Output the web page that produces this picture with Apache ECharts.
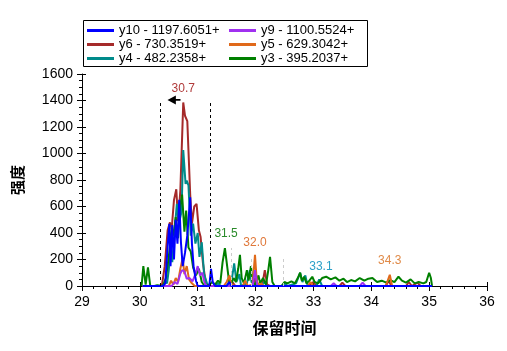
<!DOCTYPE html>
<html><head><meta charset="utf-8">
<script src="https://cdn.jsdelivr.net/npm/echarts@6/dist/echarts.min.js"></script>
<style>html,body{margin:0;padding:0;background:#fff}#c{width:507px;height:351px}</style>
</head><body><div id="c"></div>
<script>
// ---- data ----
const seriesNames = ['y10 - 1197.6051+','y9 - 1100.5524+','y6 - 730.3519+','y5 - 629.3042+','y4 - 482.2358+','y3 - 395.2037+'];
const y10 = [[30.05,0],[30.40,0],[30.44,20],[30.48,300],[30.51,470],[30.53,150],[30.56,460],[30.59,200],[30.62,500],[30.65,320],[30.68,650],[30.71,330],[30.74,150],[30.78,250],[30.82,380],[30.87,670],[30.90,320],[30.93,140],[30.97,40],[31.0,0],[31.2,0],[31.23,130],[31.26,30],[31.3,0],[31.5,0],[31.55,30],[31.58,0],[35.05,0]];
const y9 = [[30.05,0],[30.55,0],[30.60,30],[30.65,15],[30.70,95],[30.73,120],[30.77,110],[30.81,55],[30.86,60],[30.91,35],[30.96,90],[31.00,150],[31.04,80],[31.08,100],[31.12,20],[31.16,0],[31.95,0],[31.99,120],[32.03,0],[33.3,0],[33.35,20],[33.4,0],[33.8,0],[33.85,25],[33.9,0],[35.05,0]];
const y6 = [[30.05,0],[30.38,0],[30.43,150],[30.48,420],[30.52,480],[30.55,430],[30.59,650],[30.63,730],[30.66,490],[30.70,720],[30.75,1385],[30.78,1285],[30.82,1245],[30.87,690],[30.90,470],[30.94,600],[30.98,620],[31.02,420],[31.05,370],[31.09,175],[31.14,20],[31.17,0],[31.55,0],[31.6,30],[31.65,0],[31.95,0],[31.99,60],[32.03,0],[32.12,20],[32.16,120],[32.2,10],[32.25,0],[32.9,0],[33.0,30],[33.05,0],[33.45,0],[33.5,25],[33.55,0],[34.25,0],[34.3,40],[34.35,0],[34.6,0],[34.65,30],[34.7,0],[34.8,25],[34.85,0],[35.05,0]];
const y5 = [[30.05,0],[30.50,0],[30.54,40],[30.58,10],[30.62,60],[30.66,30],[30.70,130],[30.74,210],[30.77,90],[30.81,150],[30.85,50],[30.90,20],[30.95,0],[31.45,0],[31.5,30],[31.55,80],[31.58,10],[31.65,0],[31.78,0],[31.82,40],[31.86,0],[31.95,10],[31.99,235],[32.02,40],[32.06,0],[32.1,20],[32.14,0],[32.9,0],[32.95,30],[33.0,0],[34.25,0],[34.32,85],[34.36,0],[35.05,0]];
const y4 = [[30.05,0],[30.40,0],[30.44,40],[30.47,20],[30.50,120],[30.53,300],[30.56,180],[30.60,420],[30.64,620],[30.68,480],[30.72,560],[30.75,1026],[30.79,770],[30.81,795],[30.84,760],[30.88,380],[30.92,470],[30.96,320],[31.00,400],[31.03,220],[31.07,330],[31.11,90],[31.16,20],[31.2,0],[31.3,0],[31.35,20],[31.4,0],[31.5,0],[31.55,40],[31.58,20],[31.63,170],[31.67,30],[31.72,90],[31.75,0],[31.85,20],[31.90,120],[31.93,30],[31.97,0],[32.1,0],[32.15,30],[32.2,0],[32.45,0],[32.5,20],[32.55,0],[32.7,20],[32.77,100],[32.81,30],[32.86,80],[32.9,0],[33.05,0],[33.1,50],[33.15,0],[35.05,0]];
const y3 = [[30.03,0],[30.06,150],[30.10,10],[30.14,140],[30.18,0],[30.25,0],[30.30,5],[30.40,0],[30.45,60],[30.50,220],[30.55,440],[30.58,380],[30.62,520],[30.66,360],[30.70,610],[30.73,690],[30.77,410],[30.80,570],[30.84,290],[30.88,260],[30.92,140],[30.97,80],[31.02,130],[31.07,30],[31.12,0],[31.2,10],[31.25,30],[31.3,10],[31.35,40],[31.39,20],[31.43,180],[31.47,285],[31.50,280],[31.54,40],[31.58,20],[31.62,60],[31.66,30],[31.70,130],[31.73,235],[31.76,60],[31.80,20],[31.85,120],[31.88,40],[31.92,150],[31.95,30],[32.0,10],[32.05,80],[32.08,20],[32.13,60],[32.18,10],[32.22,120],[32.25,220],[32.29,30],[32.33,0],[32.45,0],[32.5,30],[32.55,20],[32.62,35],[32.68,20],[32.73,60],[32.77,100],[32.8,40],[32.84,70],[32.88,20],[32.93,40],[32.98,70],[33.02,30],[33.08,20],[33.15,60],[33.22,70],[33.3,50],[33.38,65],[33.45,40],[33.52,55],[33.58,30],[33.65,45],[33.72,35],[33.8,60],[33.88,40],[33.95,55],[34.02,60],[34.1,30],[34.18,40],[34.26,25],[34.33,45],[34.4,30],[34.47,70],[34.53,40],[34.6,25],[34.68,50],[34.75,20],[34.82,30],[34.9,20],[34.95,30],[35.0,100],[35.03,60],[35.05,0]];
const peakLabels = [['30.7',30.75,1487,'#b03a3a'],['31.5',31.49,392,'#2a8a2a'],['32.0',31.99,325,'#e0783a'],['33.1',33.13,143,'#2aa0c8'],['34.3',34.32,189,'#e08a48']];
const windowLines = [30.35, 31.22];
const windowTop = 1385;
const apexLines = [[31.58,287],[31.93,210],[32.47,210]];
const arrowAt = [30.59, 1404];
// ---- chart ----
const colors = {'y10 - 1197.6051+':'#0000ff','y9 - 1100.5524+':'#a030f0','y6 - 730.3519+':'#a52a2a','y5 - 629.3042+':'#e0691a','y4 - 482.2358+':'#008b8b','y3 - 395.2037+':'#008000'};
const dataMap = {'y10 - 1197.6051+':y10,'y9 - 1100.5524+':y9,'y6 - 730.3519+':y6,'y5 - 629.3042+':y5,'y4 - 482.2358+':y4,'y3 - 395.2037+':y3};
const drawOrder = ['y6 - 730.3519+','y4 - 482.2358+','y3 - 395.2037+','y5 - 629.3042+','y9 - 1100.5524+','y10 - 1197.6051+'];
const FONT = 'Liberation Sans, Arial, sans-serif';
const series = drawOrder.map(n => ({
  name: n, type: 'line', data: dataMap[n], showSymbol: false, symbol: 'none',
  lineStyle: {color: colors[n], width: 2}, itemStyle: {color: colors[n]}, animation: false, z: 3
}));
series.push({
  name: '_ann', type: 'line', data: [], silent: true, animation: false,
  markLine: {
    silent: true, symbol: ['none','none'], animation: false,
    data: windowLines.map(x => [{coord:[x,0], lineStyle:{color:'#000',type:[3,3],width:1}}, {coord:[x,windowTop]}])
      .concat(apexLines.map(a => [{coord:[a[0],0], lineStyle:{color:'#cccccc',type:[3,3],width:1}}, {coord:[a[0],a[1]]}])),
    label: {show: false}
  },
  markPoint: {
    animation: false,
    data: peakLabels.map(p => ({coord:[p[1],p[2]], symbolSize:1, itemStyle:{color:'rgba(0,0,0,0)'},
        label:{show:true, position:'inside', formatter:p[0], color:p[3], fontSize:12, fontFamily:FONT}}))
      .concat([{coord: arrowAt, symbol:'path://M0,5 L9,0 L9,4 L14,4 L14,6 L9,6 L9,10 Z', symbolSize:[13,9], itemStyle:{color:'#000'}, label:{show:false}}])
  }
});
const chart = echarts.init(document.getElementById('c'), null, {renderer:'canvas'});
chart.setOption({
  animation: false,
  backgroundColor: '#fff',
  grid: {left: 82, right: 20, top: 74, bottom: 65},
  graphic: [{type:'rect', left:83, top:20, shape:{width:284, height:46}, style:{fill:'#fff', stroke:'#000', lineWidth:1}, z:-1}],
  legend: [
    {data: seriesNames.filter((n,i)=>i%2===0), orient:'vertical', left:87, top:24, itemWidth:27, itemHeight:3, itemGap:1, icon:'rect',
     textStyle:{fontSize:13, fontFamily:FONT, color:'#000', lineHeight:13, padding:[0,0,0,0]}, padding:0, selectedMode:false},
    {data: seriesNames.filter((n,i)=>i%2===1), orient:'vertical', left:229, top:24, itemWidth:27, itemHeight:3, itemGap:1, icon:'rect',
     textStyle:{fontSize:13, fontFamily:FONT, color:'#000', lineHeight:13, padding:[0,0,0,0]}, padding:0, selectedMode:false}
  ],
  xAxis: [{
    type:'value', min:29, max:36, interval:1, position:'bottom',
    name:'保留时间', nameLocation:'middle', nameGap:34,
    nameTextStyle:{fontSize:16, fontWeight:'bold', color:'#000', fontFamily:'Noto Sans CJK SC'},
    axisLine:{lineStyle:{color:'#000', width:1}},
    axisTick:{length:5, lineStyle:{color:'#000'}},
    minorTick:{show:true, splitNumber:5, length:3, lineStyle:{color:'#000'}},
    splitLine:{show:false},
    axisLabel:{fontSize:14, color:'#000', fontFamily:FONT, margin:9}
  },{
    type:'value', min:29, max:36, interval:1, position:'bottom',
    axisLine:{show:false}, axisTick:{inside:true, length:4, lineStyle:{color:'#000'}},
    axisLabel:{show:false}, splitLine:{show:false}
  }],
  yAxis: [{
    type:'value', min:0, max:1600, interval:200,
    name:'强度', nameLocation:'middle', nameGap:57, nameRotate:90,
    nameTextStyle:{fontSize:15, fontWeight:'bold', color:'#000', fontFamily:'Noto Sans CJK SC'},
    axisLine:{show:true, lineStyle:{color:'#000', width:1}},
    axisTick:{show:true, length:5, lineStyle:{color:'#000'}},
    minorTick:{show:true, splitNumber:4, length:3, lineStyle:{color:'#000'}},
    splitLine:{show:false},
    axisLabel:{fontSize:14, color:'#000', fontFamily:FONT, margin:9, formatter: v => String(v)}
  },{
    type:'value', min:0, max:1600, interval:200, position:'left',
    axisLine:{show:false}, axisTick:{show:true, inside:true, length:4, lineStyle:{color:'#000'}},
    axisLabel:{show:false}, splitLine:{show:false}
  }],
  series: series
});
</script></body></html>
